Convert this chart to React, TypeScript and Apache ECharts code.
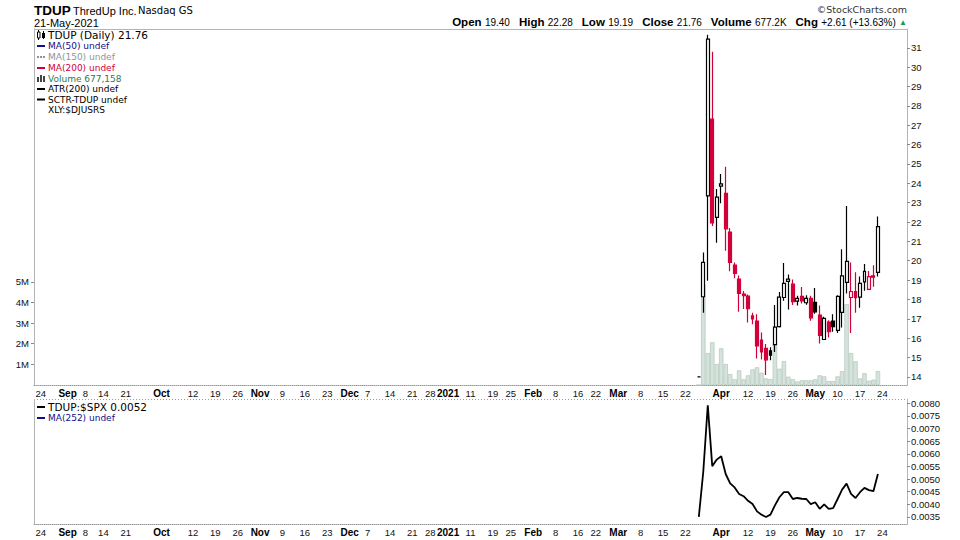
import React, { useEffect, useRef } from "react";
import * as echarts from "echarts";

// ---- calendar of the x axis ----
const AXIS_START = "2020-08-21";
const AXIS_END = "2021-06-01";
const HOLIDAYS = ["2020-09-07", "2020-11-26", "2020-12-25", "2021-01-01", "2021-01-18", "2021-02-15", "2021-04-02", "2021-05-31"];

// ---- x tick labels ----
const tickDates = [
  "2020-08-24", "2020-09-01", "2020-09-08", "2020-09-14", "2020-09-21", "2020-10-01", "2020-10-12", "2020-10-19", "2020-10-26",
  "2020-11-02", "2020-11-09", "2020-11-16", "2020-11-23", "2020-12-01", "2020-12-07", "2020-12-14", "2020-12-21", "2020-12-28",
  "2021-01-04", "2021-01-11", "2021-01-19", "2021-01-25", "2021-02-01", "2021-02-08", "2021-02-16", "2021-02-22", "2021-03-01",
  "2021-03-08", "2021-03-15", "2021-03-22", "2021-04-01", "2021-04-12", "2021-04-19", "2021-04-26", "2021-05-03", "2021-05-10",
  "2021-05-17", "2021-05-24",
];
const tickTexts = [
  "24", "Sep", "8", "14", "21", "Oct", "12", "19", "26",
  "Nov", "9", "16", "23", "Dec", "7", "14", "21", "28",
  "2021", "11", "19", "25", "Feb", "8", "16", "22", "Mar",
  "8", "15", "22", "Apr", "12", "19", "26", "May", "10",
  "17", "24",
];

// ---- price data ----
const priceDates = [
  "2021-03-25", "2021-03-26", "2021-03-29", "2021-03-30", "2021-03-31", "2021-04-01", "2021-04-05", "2021-04-06", "2021-04-07",
  "2021-04-08", "2021-04-09", "2021-04-12", "2021-04-13", "2021-04-14", "2021-04-15", "2021-04-16", "2021-04-19", "2021-04-20",
  "2021-04-21", "2021-04-22", "2021-04-23", "2021-04-26", "2021-04-27", "2021-04-28", "2021-04-29", "2021-04-30", "2021-05-03",
  "2021-05-04", "2021-05-05", "2021-05-06", "2021-05-07", "2021-05-10", "2021-05-11", "2021-05-12", "2021-05-13", "2021-05-14",
  "2021-05-17", "2021-05-18", "2021-05-19", "2021-05-20", "2021-05-21",
];
const opens = [14, 18.14, 23.35, 27.31, 22.24, 23.85, 23.48, 21.48, 19.78, 19.05, 18.28, 18.17, 17.15, 16.88, 15.9, 15.47, 15.34, 15.67, 16.6, 18.1, 18.93, 18.79, 17.91, 18.16, 17.83, 18.05, 17.85, 17.19, 15.93, 16.83, 16.88, 16.4, 17.33, 18.88, 18.1, 18.41, 18.12, 18.91, 18.52, 19.22, 19.4];
const highs = [14, 20.43, 31.67, 30.79, 23.71, 24.48, 24.85, 21.69, 19.91, 19.24, 18.43, 18.26, 17.31, 17.24, 16.29, 15.7, 15.53, 17.71, 18.39, 19.88, 19.29, 19.03, 18.19, 18.64, 18.22, 18.19, 18.59, 17.69, 17.1, 16.93, 17.24, 18.22, 20.59, 22.83, 19.91, 19.41, 19.19, 19.83, 19.47, 19.76, 22.28];
const lows = [14, 17.31, 18.97, 21.79, 20.93, 22.97, 20.52, 19.45, 19.09, 17.36, 17.5, 16.81, 16.72, 14.95, 14.9, 14.1, 14.86, 15.29, 16.55, 17.93, 17.48, 17.71, 17.69, 17.79, 17.72, 16.9, 17.26, 15.72, 15.9, 16.04, 16.33, 16.27, 16.55, 18.31, 16.27, 17.31, 17.57, 18.45, 18.5, 18.65, 19.19];
const closes = [14, 19.91, 31.45, 21.96, 23.28, 23.97, 21.65, 19.91, 19.35, 18.31, 18.19, 17.52, 16.99, 15.6, 15.29, 14.88, 15.12, 16.57, 18.12, 18.83, 19.05, 17.88, 18.05, 17.93, 18.05, 17.05, 17.36, 16.14, 17.02, 16.33, 16.6, 18.16, 19.22, 19.97, 18.41, 18.09, 18.83, 19.45, 19.18, 19.15, 21.76];
const volumes = [0, 4890000, 1550000, 2070000, 1020000, 1780000, 1020000, 530000, 280000, 710000, 280000, 470000, 760000, 860000, 600000, 320000, 290000, 2050000, 790000, 1160000, 400000, 280000, 170000, 230000, 230000, 230000, 280000, 470000, 420000, 190000, 190000, 420000, 670000, 3920000, 1550000, 1150000, 320000, 570000, 210000, 260000, 677158];
const ratioSPX = [0.0035, 0.0053, 0.00792, 0.00551, 0.00577, 0.0059, 0.0052, 0.00483, 0.00467, 0.00441, 0.00432, 0.00414, 0.00401, 0.00372, 0.00359, 0.0035, 0.00359, 0.00396, 0.00428, 0.00448, 0.00448, 0.00421, 0.00425, 0.00422, 0.00421, 0.00401, 0.00408, 0.00382, 0.004, 0.00382, 0.00385, 0.00421, 0.00458, 0.00482, 0.00441, 0.00425, 0.00448, 0.00465, 0.00456, 0.00452, 0.0052];

// ---- y tick values ----
const priceTicks = [14, 15, 16, 17, 18, 19, 20, 21, 22, 23, 24, 25, 26, 27, 28, 29, 30, 31];
const volumeTicks = [1000000, 2000000, 3000000, 4000000, 5000000];
const ratioTicks = [0.0035, 0.004, 0.0045, 0.005, 0.0055, 0.006, 0.0065, 0.007, 0.0075, 0.008];

const RED = "#d2003a";
const BLACK = "#000000";
const FRAME = "#b4b4b4";
const SANS = "Liberation Sans, Arial, sans-serif";
const VERD = "DejaVu Sans, Verdana, sans-serif";

function tradingDays(start: string, end: string, holidays: string[]) {
  const out: string[] = [];
  const d = new Date(start + "T00:00:00Z");
  const e = new Date(end + "T00:00:00Z");
  while (d <= e) {
    const dow = d.getUTCDay();
    const s = d.toISOString().slice(0, 10);
    if (dow !== 0 && dow !== 6 && holidays.indexOf(s) < 0) out.push(s);
    d.setUTCDate(d.getUTCDate() + 1);
  }
  return out;
}

function buildOption() {
  const categories = tradingDays(AXIS_START, AXIS_END, HOLIDAYS);
  const tickMap: Record<string, string> = {};
  tickDates.forEach((d, i) => (tickMap[d] = tickTexts[i]));

  const candleData = categories.map((date) => {
    const i = priceDates.indexOf(date);
    if (i < 0) return ["-", "-", "-", "-"];
    const o = opens[i], c = closes[i];
    const prev = i > 0 ? closes[i - 1] : c;
    const col = c >= prev ? BLACK : RED;
    const hollow = c > o;
    const fill = hollow ? "#ffffff" : col;
    return {
      value: [o, c, lows[i], highs[i]],
      itemStyle: {
        color: fill, color0: fill,
        borderColor: col, borderColor0: col, borderColorDoji: col,
        borderWidth: 1.2,
      },
    };
  });
  const volData = categories.map((date) => {
    const i = priceDates.indexOf(date);
    return i < 0 ? "-" : volumes[i];
  });
  const ratioData = categories.map((date) => {
    const i = priceDates.indexOf(date);
    return i < 0 ? "-" : ratioSPX[i];
  });

  const xLabel = {
    interval: (_idx: number, value: string) => tickMap[value] !== undefined,
    formatter: (value: string) => {
      const t = tickMap[value];
      if (t === undefined) return "";
      const bold = isNaN(Number(t)) || t === "2021";
      return bold ? `{b|${t}}` : `{n|${t}}`;
    },
    margin: 3,
    rich: {
      b: { fontFamily: SANS, fontWeight: "bold", fontSize: 10, color: "#000" },
      n: { fontFamily: SANS, fontSize: 9.5, color: "#111" },
    },
  };
  const xAxisBase = (gridIndex: number) => ({
    type: "category",
    gridIndex,
    data: categories,
    boundaryGap: true,
    axisLine: { show: true, lineStyle: { color: "#9a9a9a", type: "dotted", width: 1 } },
    axisTick: { show: false },
    axisLabel: xLabel,
    splitLine: { show: false },
  });
  const yLabelStyle = { fontFamily: SANS, fontSize: 9.5, color: "#111" };

  const legendRows = [
    { t: "TDUP (Daily) 21.76", c: "#000", f: 10.5 },
    { t: "MA(50) undef", c: "#10108a", f: 9 },
    { t: "MA(150) undef", c: "#8796a4", f: 9 },
    { t: "MA(200) undef", c: RED, f: 9 },
    { t: "Volume 677,158", c: "#2c7a55", f: 9 },
    { t: "ATR(200) undef", c: "#000", f: 9 },
    { t: "SCTR-TDUP undef", c: "#000", f: 9 },
    { t: "XLY:$DJUSRS", c: "#000", f: 9 },
  ];
  const rowY = [35, 46, 57, 68, 79, 89, 99.5, 110];
  const textEl = (x: number, y: number, text: string, fill: string, fontSize: number, fontFamily = VERD, fontWeight = "normal", align = "left") => ({
    type: "text", x, y, silent: true,
    style: { text, fill, fontSize, fontFamily, fontWeight, textAlign: align, align, textVerticalAlign: "middle", verticalAlign: "middle" },
  });
  const rect = (x: number, y: number, w: number, h: number, fill: string, stroke?: string) => ({
    type: "rect", silent: true, shape: { x, y, width: w, height: h },
    style: { fill, stroke: stroke || null, lineWidth: stroke ? 1 : 0 },
  });
  const line = (x1: number, y1: number, x2: number, y2: number, stroke: string, dash?: number[]) => ({
    type: "line", silent: true, shape: { x1, y1, x2, y2 },
    style: { stroke, lineWidth: 1, lineDash: dash || null },
  });

  const graphic: any[] = [
    // frames
    line(34, 29.5, 907, 29.5, FRAME),
    line(34, 399.5, 907, 399.5, "#9a9a9a", [1, 2]),
    line(34.5, 399, 34.5, 524, FRAME),
    // header
    textEl(34, 10, "TDUP", "#000", 13.5, SANS, "bold"),
    textEl(73, 10.5, "ThredUp Inc.", "#000", 11, SANS),
    textEl(138, 10.5, "Nasdaq GS", "#000", 10, VERD),
    textEl(34, 23, "21-May-2021", "#000", 11, SANS),
    textEl(907, 9, "\u00a9StockCharts.com", "#333", 9.5, VERD, "normal", "right"),
    {
      type: "text", x: 907, y: 22, silent: true,
      style: {
        text: "{l|Open} {v|19.40}{s| }{l|High} {v|22.28}{s| }{l|Low} {v|19.19}{s| }{l|Close} {v|21.76}{s| }{l|Volume} {v|677.2K}{s| }{l|Chg} {v|+2.61 (+13.63%)} {g|\u25b2}",
        textAlign: "right", align: "right", textVerticalAlign: "middle", verticalAlign: "middle",
        rich: {
          l: { fontFamily: SANS, fontWeight: "bold", fontSize: 11.5, fill: "#000" },
          v: { fontFamily: SANS, fontSize: 10, fill: "#000" },
          s: { fontFamily: SANS, fontSize: 10, width: 9 },
          g: { fontFamily: SANS, fontSize: 8, fill: "#1a9a4a" },
        },
      },
    },
    // legend icons
    line(38.5, 30, 38.5, 40, "#000"),
    rect(37.5, 32, 2.5, 6, "#fff", "#000"),
    line(43.5, 31, 43.5, 39, "#000"),
    rect(42, 33, 3, 5, "#000"),
    rect(37, 45, 8, 2, "#10108a"),
    rect(37, 56, 2, 2, "#8796a4"),
    rect(40, 56, 2, 2, "#8796a4"),
    rect(43, 56, 2, 2, "#8796a4"),
    rect(37, 67, 8, 2, RED),
    rect(37, 77, 2, 5, "#444"),
    rect(40, 75, 2, 7, "#444"),
    rect(43, 76, 2, 6, "#444"),
    rect(37, 88, 8, 2, "#000"),
    rect(37, 98.5, 8, 2, "#000"),
    // lower legend
    rect(37, 406, 8, 2, "#000"),
    textEl(48, 407, "TDUP:$SPX 0.0052", "#000", 10.5),
    rect(37, 417, 8, 2, "#10108a"),
    textEl(48, 418, "MA(252) undef", "#10108a", 9),
  ];
  legendRows.forEach((r, i) => graphic.push(textEl(48, rowY[i], r.t, r.c, r.f)));

  return {
    animation: false,
    backgroundColor: "#ffffff",
    grid: [
      { left: 34, top: 29, width: 873, height: 356 },
      { left: 34, top: 399, width: 873, height: 125 },
    ],
    xAxis: [xAxisBase(0), xAxisBase(1)],
    yAxis: [
      {
        type: "value", gridIndex: 0, position: "right", min: 13.58, max: 31.97, scale: true,
        axisLine: { show: true, lineStyle: { color: FRAME } },
        axisTick: { show: true, length: 3, inside: false, customValues: priceTicks, lineStyle: { color: "#888" } },
        axisLabel: { customValues: priceTicks, margin: 4, ...yLabelStyle },
        splitLine: { show: false },
      },
      {
        type: "value", gridIndex: 0, position: "left", min: 0, max: 17240000,
        axisLine: { show: true, lineStyle: { color: FRAME } },
        axisTick: { show: true, length: 3, customValues: volumeTicks, lineStyle: { color: "#888" } },
        axisLabel: { customValues: volumeTicks, margin: 5, formatter: (v: number) => v / 1000000 + "M", ...yLabelStyle },
        splitLine: { show: false },
      },
      {
        type: "value", gridIndex: 1, position: "right", min: 0.00322, max: 0.00817,
        axisLine: { show: true, lineStyle: { color: FRAME } },
        axisTick: { show: true, length: 3, customValues: ratioTicks, lineStyle: { color: "#888" } },
        axisLabel: { customValues: ratioTicks, margin: 4, formatter: (v: number) => v.toFixed(4), ...yLabelStyle },
        splitLine: { show: false },
      },
    ],
    series: [
      {
        type: "bar", name: "Volume", xAxisIndex: 0, yAxisIndex: 1, data: volData, z: 1,
        barCategoryGap: "0%",
        itemStyle: { color: "#d5e3dc", borderColor: "#b7cbc0", borderWidth: 0.8 },
      },
      {
        type: "candlestick", name: "TDUP", xAxisIndex: 0, yAxisIndex: 0, data: candleData, z: 3,
        barWidth: 3.4,
      },
      {
        type: "line", name: "TDUP:$SPX", xAxisIndex: 1, yAxisIndex: 2, data: ratioData,
        showSymbol: false, symbol: "none", connectNulls: false,
        lineStyle: { color: "#000", width: 1.8 },
      },
    ],
    graphic,
  };
}

export default function App() {
  const ref = useRef<HTMLDivElement>(null);
  useEffect(() => {
    if (!ref.current) return;
    const chart = echarts.init(ref.current, undefined, { renderer: "svg" });
    chart.setOption(buildOption() as any);
    return () => chart.dispose();
  }, []);
  return <div ref={ref} style={{ width: 960, height: 540, position: "absolute", left: 0, top: 0, background: "#fff" }} />;
}
